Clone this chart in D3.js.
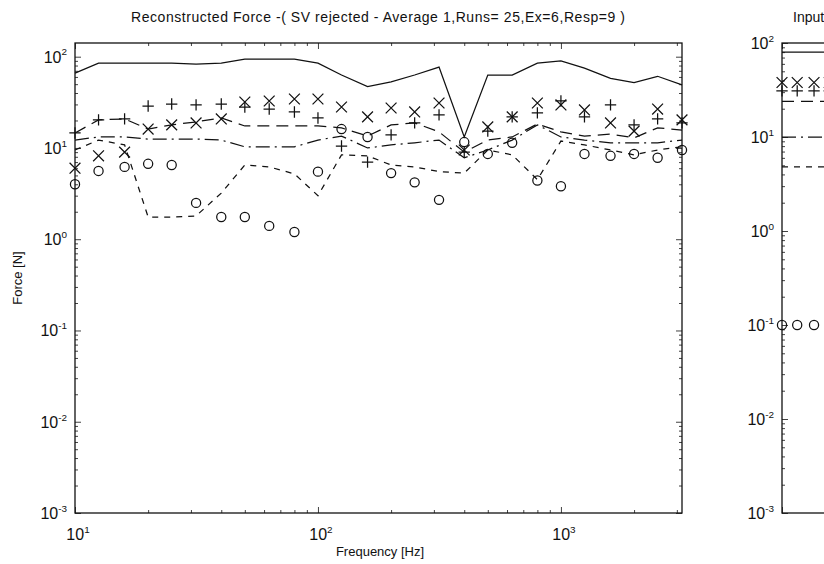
<!DOCTYPE html>
<html>
<head>
<meta charset="utf-8">
<script src="https://cdn.jsdelivr.net/npm/d3@7"></script>
<style>
body { margin: 0; background: #fff; }
svg { display: block; }
text { font-family: "Liberation Sans", Arial, sans-serif; fill: #111; }
</style>
</head>
<body>
<svg id="chart" width="824" height="564"></svg>
<script>
// 1/3 octave band centres (Hz)
const freqs = [10, 12.5, 16, 20, 25, 31.5, 40, 50, 63, 80, 100, 125, 160, 200, 250, 315, 400, 500, 630, 800, 1000, 1250, 1600, 2000, 2500, 3150];

// reconstructed force, N
const solidForce = [66, 85, 85, 85, 85, 83, 85, 94, 94, 94, 85, 63, 47, 53, 63, 77, 13.2, 63, 63, 85, 90, 75, 58, 52, 61, 49];
const longDashForce = [14.6, 20.3, 20.8, 16.1, 17.9, 19.3, 21.3, 17.4, 17.4, 17.4, 17.4, 16.6, 13.5, 17.9, 18.8, 15.0, 9.0, 12.2, 13.2, 18.3, 15.0, 13.5, 14.2, 12.9, 16.6, 15.7];
const dashDotForce = [12.2, 13.2, 13.2, 12.5, 12.5, 12.5, 12.2, 10.3, 10.3, 10.3, 12.2, 13.5, 10.0, 10.8, 11.4, 12.2, 7.8, 9.5, 12.2, 17.9, 13.2, 12.2, 11.4, 11.4, 11.4, 12.2];
const shortDashForce = [9.5, 12.2, 10.8, 1.75, 1.75, 1.8, 3.2, 6.5, 6.2, 5.2, 3.0, 8.4, 8.2, 6.5, 6.2, 5.5, 5.3, 9.5, 8.4, 4.5, 11.9, 10.8, 9.5, 8.4, 9.5, 10.3];
const xMarkForce = [6.0, 8.2, 9.0, 16.1, 17.9, 18.8, 20.8, 31.9, 32.7, 34.4, 34.4, 28.1, 21.9, 27.4, 24.8, 31.1, 9.5, 17.0, 21.9, 31.1, 29.6, 26.1, 18.8, 15.3, 26.7, 20.3];
const plusMarkForce = [14.6, 20.3, 20.8, 28.8, 30.3, 29.6, 30.3, 28.1, 26.7, 24.8, 21.3, 10.5, 7.0, 13.9, 18.8, 23.0, 9.0, 15.3, 21.9, 24.2, 32.7, 21.9, 29.6, 17.9, 20.8, 18.8];
const circleMarkForce = [4.0, 5.6, 6.2, 6.7, 6.5, 2.5, 1.75, 1.75, 1.4, 1.2, 5.5, 16.1, 13.2, 5.3, 4.2, 2.7, 11.6, 8.6, 11.4, 4.4, 3.8, 8.6, 8.2, 8.6, 7.8, 9.5];

// input force panel (only its left edge is in view)
const inputFreqs = [10, 12.5, 16, 20, 25];
const inputSolid = [80, 80, 80, 80, 80];
const inputLongDash = [24, 24, 24, 24, 24];
const inputDashDot = [10, 10, 10, 10, 10];
const inputShortDash = [4.8, 4.8, 4.8, 4.8, 4.8];
const inputX = [38, 38, 38, 38, 38];
const inputPlus = [31, 31, 31, 31, 31];
const inputCircle = [0.1, 0.1, 0.1, 0.1, 0.1];

const yDecades = [-3, -2, -1, 0, 1, 2];
const xDecades = [1, 2, 3];

const ink = "#111";
const svg = d3.select("#chart");

const logTicks = (lo, hi) => {
    const major = [], minor = [];
    for (let e = Math.floor(Math.log10(lo)); e <= Math.ceil(Math.log10(hi)); e++) {
        for (let m = 1; m < 10; m++) {
            const v = m * Math.pow(10, e);
            if (v < lo * 0.999 || v > hi * 1.001) continue;
            (m === 1 ? major : minor).push(v);
        }
    }
    return {major, minor};
};

const power = (sel, exp, size) => {
    sel.append("tspan").style("font-size", size + "px").text("10");
    sel.append("tspan").attr("dy", -size * 0.45).style("font-size", (size * 0.62) + "px").text(exp);
};

const panel = (box, xDomain, yDomain, series, opts) => {
    const x = d3.scaleLog().domain(xDomain).range([box.left, box.right]);
    const y = d3.scaleLog().domain(yDomain).range([box.bottom, box.top]);
    const g = svg.append("g");

    const xt = logTicks(xDomain[0], xDomain[1]);
    const yt = logTicks(yDomain[0], yDomain[1]);
    const tick = (axis, scale, vals, len, tr) => g.append("g")
        .attr("transform", tr)
        .call(axis(scale).tickValues(vals).tickSize(-len).tickFormat(""))
        .call(a => a.select(".domain").remove())
        .call(a => a.selectAll("line").attr("stroke", ink).attr("stroke-width", 0.8));

    [[xt.major, 6], [xt.minor, 3]].forEach(([v, l]) => {
        tick(d3.axisBottom, x, v, l, `translate(0,${box.bottom})`);
        tick(d3.axisTop, x, v, l, `translate(0,${box.top})`);
    });
    [[yt.major, 6], [yt.minor, 3]].forEach(([v, l]) => {
        tick(d3.axisLeft, y, v, l, `translate(${box.left},0)`);
        tick(d3.axisRight, y, v, l, `translate(${box.right},0)`);
    });

    g.append("rect")
        .attr("x", box.left).attr("y", box.top)
        .attr("width", box.right - box.left).attr("height", box.bottom - box.top)
        .attr("fill", "none").attr("stroke", ink).attr("stroke-width", 1.3);

    // y tick labels
    yDecades.forEach(e => {
        const v = Math.pow(10, e);
        if (v < yDomain[0] * 0.999 || v > yDomain[1] * 1.001) return;
        const t = g.append("text")
            .attr("x", box.left - 8).attr("y", y(v) + 6)
            .attr("text-anchor", "end");
        power(t, e, 16);
    });
    // x tick labels
    if (opts.xLabels) xDecades.forEach(e => {
        const v = Math.pow(10, e);
        const t = g.append("text")
            .attr("x", x(v) + 3).attr("y", box.bottom + 27)
            .attr("text-anchor", "middle");
        power(t, e, 16);
    });

    const clip = "clip" + Math.round(box.left);
    g.append("clipPath").attr("id", clip).append("rect")
        .attr("x", box.left - 6).attr("y", box.top - 6)
        .attr("width", box.right - box.left + 12).attr("height", box.bottom - box.top + 12);
    const plot = g.append("g").attr("clip-path", `url(#${clip})`);

    const line = d3.line().x(d => x(d[0])).y(d => y(d[1]));
    const f = series.freqs;
    [[series.solid, null], [series.longDash, "12,7"], [series.dashDot, "14,5,2,5"], [series.shortDash, "6,6"]]
        .forEach(([vals, dash]) => {
            plot.append("path")
                .datum(f.map((fr, i) => [fr, vals[i]]))
                .attr("d", line)
                .attr("fill", "none")
                .attr("stroke", ink)
                .attr("stroke-width", 1.25)
                .attr("stroke-dasharray", dash);
        });

    [[series.x, d3.symbolX, 78], [series.plus, d3.symbolPlus, 44], [series.circle, d3.symbolCircle, 66]]
        .forEach(([vals, type, size]) => {
            plot.append("g").selectAll("path")
                .data(f.map((fr, i) => [fr, vals[i]]))
                .join("path")
                .attr("transform", d => `translate(${x(d[0])},${y(d[1])})`)
                .attr("d", d3.symbol(type, size))
                .attr("fill", "none")
                .attr("stroke", ink)
                .attr("stroke-width", 1.25);
        });
    return {x, y};
};

const left = {left: 75, right: 682, top: 43, bottom: 513};
panel(left, [10, 3150], [1e-3, Math.pow(10, 2.15)], {
    freqs: freqs, solid: solidForce, longDash: longDashForce, dashDot: dashDotForce,
    shortDash: shortDashForce, x: xMarkForce, plus: plusMarkForce, circle: circleMarkForce
}, {xLabels: true});

const right = {left: 782, right: 1174, top: 43, bottom: 513};
panel(right, [10, 3150], [1e-3, 1e2], {
    freqs: inputFreqs, solid: inputSolid, longDash: inputLongDash, dashDot: inputDashDot,
    shortDash: inputShortDash, x: inputX, plus: inputPlus, circle: inputCircle
}, {xLabels: false});

svg.append("text")
    .attr("x", 378).attr("y", 22)
    .attr("text-anchor", "middle")
    .style("font-size", "14px")
    .attr("textLength", 494)
    .text("Reconstructed Force -(  SV rejected - Average 1,Runs= 25,Ex=6,Resp=9 )");

svg.append("text")
    .attr("x", 793).attr("y", 22)
    .style("font-size", "14px")
    .text("Input");

svg.append("text")
    .attr("x", 380).attr("y", 556)
    .attr("text-anchor", "middle")
    .style("font-size", "13px")
    .text("Frequency [Hz]");

svg.append("text")
    .attr("transform", `translate(22,${(left.top + left.bottom) / 2}) rotate(-90)`)
    .attr("text-anchor", "middle")
    .style("font-size", "13px")
    .text("Force [N]");
</script>
</body>
</html>
